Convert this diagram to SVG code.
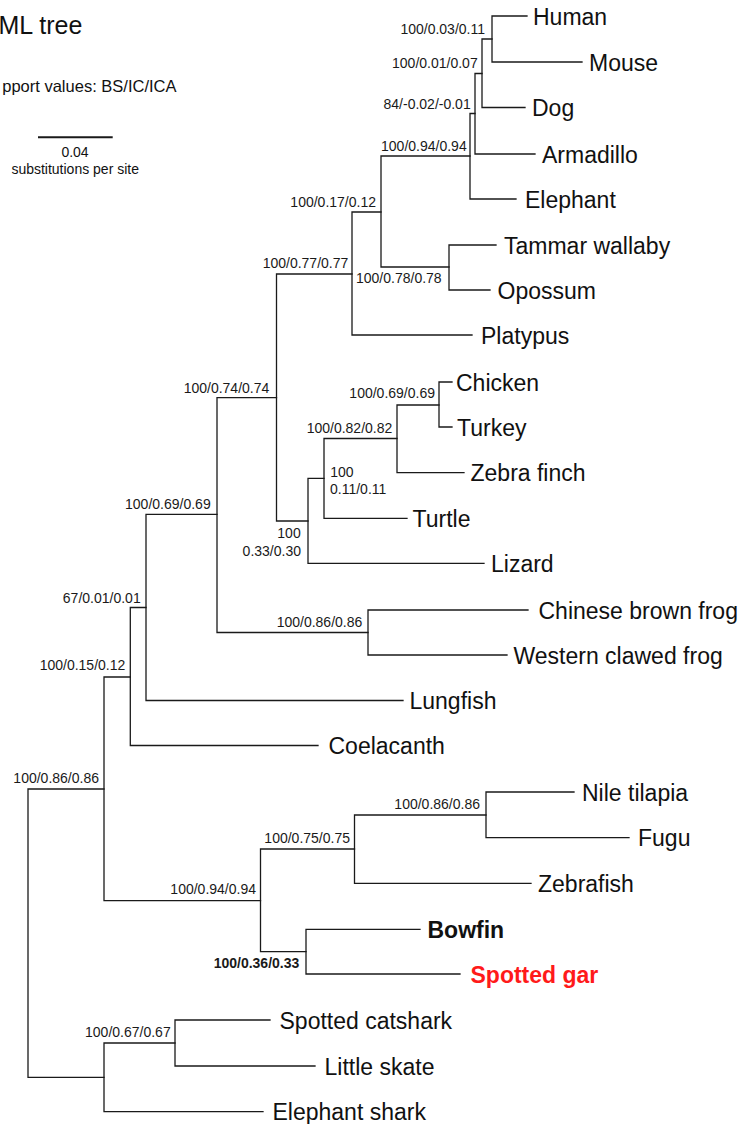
<svg xmlns="http://www.w3.org/2000/svg" width="741" height="1124" viewBox="0 0 741 1124">
<style>
.br{fill:none;stroke:#1a1a1a;stroke-width:1.3;stroke-linecap:square}
.tx{font-family:"Liberation Sans",Arial,sans-serif;font-size:23px;fill:#111}
.sv{font-family:"Liberation Sans",Arial,sans-serif;font-size:14px;fill:#1a1a1a}
.end{text-anchor:end}
.b{font-weight:bold}
.red{fill:#ff1a1a}
.hd{font-family:"Liberation Sans",Arial,sans-serif;fill:#111}
</style>
<rect width="741" height="1124" fill="#ffffff"/>
<g id="legend">
<text class="hd" x="-1.5" y="33.5" font-size="25">ML tree</text>
<text class="hd end" x="176.5" y="91.5" font-size="16.5">pport values: BS/IC/ICA</text>
<line x1="38" y1="137.3" x2="112.7" y2="137.3" stroke="#1a1a1a" stroke-width="2"/>
<text class="hd" x="75" y="157" font-size="14" text-anchor="middle">0.04</text>
<text class="hd" x="75.2" y="174" font-size="14" text-anchor="middle">substitutions per site</text>
</g>
<g id="connectors" class="br">
<path d="M527 16 H492 V62 H582"/>
<path d="M492 39 H482 V107.5 H525"/>
<path d="M482 73.5 H475 V154 H535"/>
<path d="M475 113.5 H470 V199 H516"/>
<path d="M496 245 H449 V290 H490"/>
<path d="M470 156 H381 V267 H449"/>
<path d="M381 212 H352 V335 H472"/>
<path d="M452 382 H439 V427 H452"/>
<path d="M439 405 H397 V472.7 H464"/>
<path d="M397 438.5 H324 V518.3 H407"/>
<path d="M324 478.3 H308 V563.3 H484"/>
<path d="M352 274 H276.5 V521 H308"/>
<path d="M528 610 H368 V655 H507"/>
<path d="M276.5 397.7 H217 V632.5 H368"/>
<path d="M217 514.3 H146 V700.5 H403"/>
<path d="M146 607.5 H130.3 V745.5 H318"/>
<path d="M574 792 H486 V837.7 H629"/>
<path d="M486 815 H354.5 V883.3 H531"/>
<path d="M420 929.3 H306 V974 H460"/>
<path d="M354.5 849 H260.5 V951.7 H306"/>
<path d="M130.3 677 H104 V900.7 H260.5"/>
<path d="M270 1020 H175 V1066 H315"/>
<path d="M175 1043 H104 V1111.7 H263"/>
<path d="M104 789 H28 V1077.3 H104"/>
</g>
<g id="taxa">
<g id="t-human"><text class="tx" x="533" y="24.5">Human</text></g>
<g id="t-mouse"><text class="tx" x="589" y="70.5">Mouse</text></g>
<g id="t-dog"><text class="tx" x="532" y="116">Dog</text></g>
<g id="t-armadillo"><text class="tx" x="542" y="162.5">Armadillo</text></g>
<g id="t-elephant"><text class="tx" x="525" y="207.5">Elephant</text></g>
<g id="t-wallaby"><text class="tx" x="504" y="253.5">Tammar wallaby</text></g>
<g id="t-opossum"><text class="tx" x="497.5" y="298.5">Opossum</text></g>
<g id="t-platypus"><text class="tx" x="481" y="343.5">Platypus</text></g>
<g id="t-chicken"><text class="tx" x="456" y="390.5">Chicken</text></g>
<g id="t-turkey"><text class="tx" x="457" y="435.5">Turkey</text></g>
<g id="t-zebrafinch"><text class="tx" x="470.5" y="481">Zebra finch</text></g>
<g id="t-turtle"><text class="tx" x="412.5" y="527">Turtle</text></g>
<g id="t-lizard"><text class="tx" x="491" y="572">Lizard</text></g>
<g id="t-cbfrog"><text class="tx" x="538.5" y="618.5">Chinese brown frog</text></g>
<g id="t-wcfrog"><text class="tx" x="513.5" y="663.5">Western clawed frog</text></g>
<g id="t-lungfish"><text class="tx" x="409.5" y="709">Lungfish</text></g>
<g id="t-coelacanth"><text class="tx" x="328.5" y="754">Coelacanth</text></g>
<g id="t-tilapia"><text class="tx" x="582" y="800.5">Nile tilapia</text></g>
<g id="t-fugu"><text class="tx" x="638" y="846">Fugu</text></g>
<g id="t-zebrafish"><text class="tx" x="538" y="892">Zebrafish</text></g>
<g id="t-bowfin"><text class="tx b" x="427.5" y="938">Bowfin</text></g>
<g id="t-gar"><text class="tx b red" x="470.5" y="982.5">Spotted gar</text></g>
<g id="t-catshark"><text class="tx" x="279.5" y="1028.5">Spotted catshark</text></g>
<g id="t-skate"><text class="tx" x="324.5" y="1074.5">Little skate</text></g>
<g id="t-eshark"><text class="tx" x="272.5" y="1120">Elephant shark</text></g>
</g>
<g id="supports">
<g id="s-hm"><text class="sv end" x="485" y="34">100/0.03/0.11</text></g>
<g id="s-hmd"><text class="sv end" x="477.7" y="68">100/0.01/0.07</text></g>
<g id="s-hmda"><text class="sv end" x="470.7" y="109">84/-0.02/-0.01</text></g>
<g id="s-euth"><text class="sv end" x="466.7" y="150.5">100/0.94/0.94</text></g>
<g id="s-theria"><text class="sv end" x="376" y="207">100/0.17/0.12</text></g>
<g id="s-mamm"><text class="sv end" x="348.3" y="268">100/0.77/0.77</text></g>
<g id="s-marsup"><text class="sv" x="356" y="283">100/0.78/0.78</text></g>
<g id="s-amniota"><text class="sv end" x="269.3" y="392.5">100/0.74/0.74</text></g>
<g id="s-galli"><text class="sv end" x="435" y="398">100/0.69/0.69</text></g>
<g id="s-birds"><text class="sv end" x="392.3" y="433">100/0.82/0.82</text></g>
<g id="s-archelo"><text class="sv" x="330.3" y="476.5">100</text><text class="sv" x="330" y="494">0.11/0.11</text></g>
<g id="s-saurop"><text class="sv end" x="300.7" y="537.5">100</text><text class="sv end" x="301" y="555.5">0.33/0.30</text></g>
<g id="s-tetra"><text class="sv end" x="210.7" y="509">100/0.69/0.69</text></g>
<g id="s-rhipid"><text class="sv end" x="140.7" y="602.5">67/0.01/0.01</text></g>
<g id="s-frogs"><text class="sv end" x="362.3" y="627">100/0.86/0.86</text></g>
<g id="s-sarcop"><text class="sv end" x="125.3" y="670">100/0.15/0.12</text></g>
<g id="s-osteich"><text class="sv end" x="99" y="783">100/0.86/0.86</text></g>
<g id="s-nilefugu"><text class="sv end" x="480" y="809">100/0.86/0.86</text></g>
<g id="s-teleost"><text class="sv end" x="350" y="843">100/0.75/0.75</text></g>
<g id="s-actino"><text class="sv end" x="256" y="894">100/0.94/0.94</text></g>
<g id="s-holostei"><text class="sv end b" x="299.3" y="968">100/0.36/0.33</text></g>
<g id="s-chondr"><text class="sv end" x="170.7" y="1037">100/0.67/0.67</text></g>
</g>
</svg>
